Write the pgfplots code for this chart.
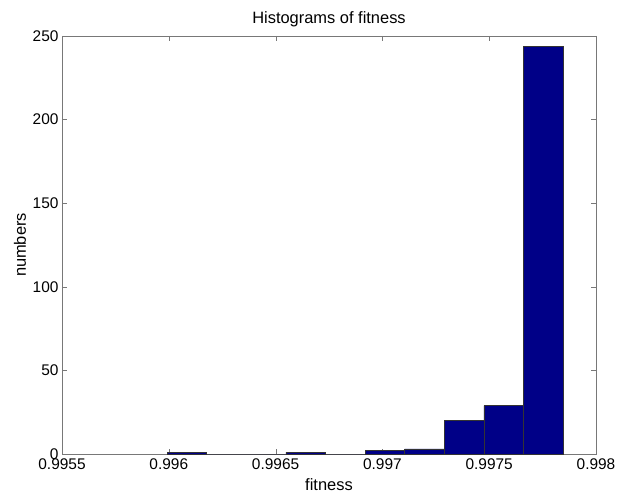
\documentclass[border=0pt]{standalone}
\usepackage{pgfplots}
\pgfplotsset{compat=1.18}
\usepackage{fontspec}
\setmainfont{Liberation Sans}
\definecolor{barblue}{RGB}{0,0,135}
\definecolor{axgray}{RGB}{120,120,120}
\begin{document}
\begin{tikzpicture}
\path[use as bounding box] (-62bp,-39bp) rectangle (556bp,454bp);
\begin{axis}[
  scale only axis,
  width=534bp, height=418bp,
  xmin=0.9955, xmax=0.998,
  ymin=0, ymax=250,
  xtick={0.9955,0.996,0.9965,0.997,0.9975,0.998},
  xticklabels={0.9955,0.996,0.9965,0.997,0.9975,0.998},
  ytick={0,50,100,150,200,250},
  yticklabels={0,50,100,150,200,250},
  scaled x ticks=false,
  axis line style={axgray},
  tick style={axgray},
  major tick length=5bp,
  tick align=inside,
  ticklabel style={font=\fontsize{15.5}{17}\selectfont, text=black},
  xticklabel style={yshift=-1bp},
  title={Histograms of fitness},
  title style={font=\fontsize{16.5}{18}\selectfont, at={(axis description cs:0.5,1.0263)}, anchor=center},
  xlabel={fitness},
  xlabel style={font=\fontsize{16.5}{18}\selectfont, at={(axis description cs:0.5,-0.0742)}, anchor=center},
  ylabel={numbers},
  ylabel style={font=\fontsize{16.5}{18}\selectfont, at={(axis description cs:-0.0787,0.5)}, anchor=center, rotate=0},
]
\addplot[ybar interval, fill=barblue, draw=black!80, line width=0.4pt] coordinates {
(0.995992,1)
(0.996177,0)
(0.996363,0)
(0.996548,1)
(0.996734,0)
(0.996919,2)
(0.997104,3)
(0.997290,20)
(0.997475,29)
(0.997661,244)
(0.997846,244)
};
\end{axis}
\end{tikzpicture}
\end{document}
